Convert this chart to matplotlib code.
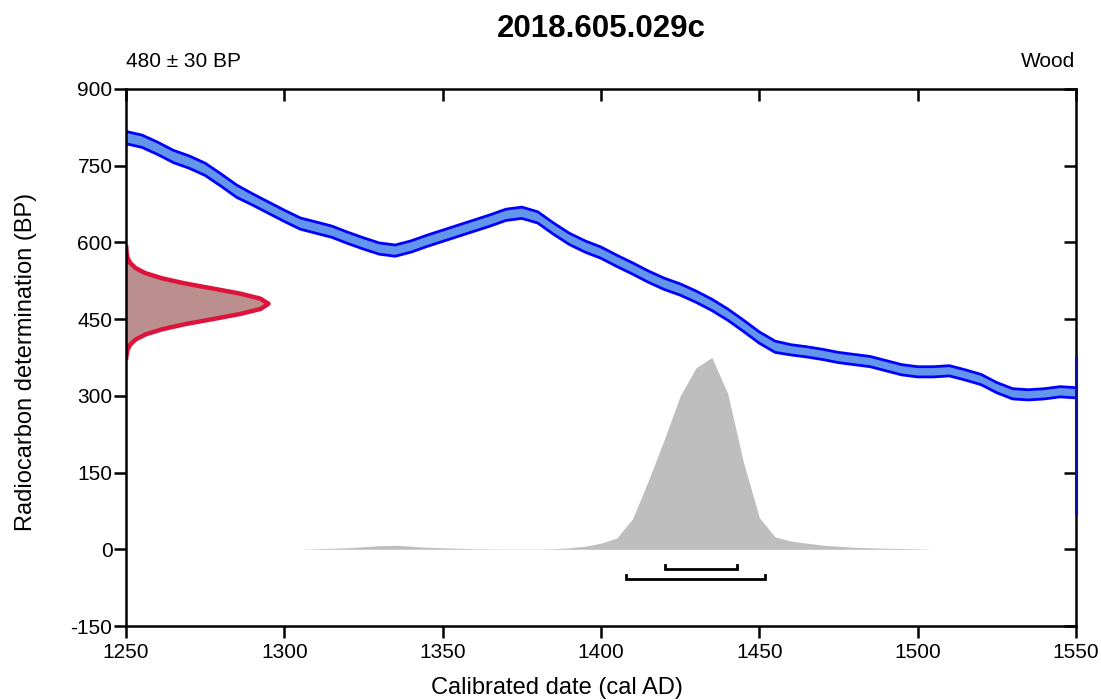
import numpy as np
import matplotlib.pyplot as plt

plt.rcParams['font.family'] = ['Liberation Sans', 'DejaVu Sans']
plt.rcParams['axes.unicode_minus'] = False

# calibration curve (centre BP and 1-sigma half width)
curve_years = [1250, 1255, 1260, 1265, 1270, 1275, 1280, 1285, 1290, 1295,
               1300, 1305, 1310, 1315, 1320, 1325, 1330, 1335, 1340, 1345,
               1350, 1355, 1360, 1365, 1370, 1375, 1380, 1385, 1390, 1395,
               1400, 1405, 1410, 1415, 1420, 1425, 1430, 1435, 1440, 1445,
               1450, 1455, 1460, 1465, 1470, 1475, 1480, 1485, 1490, 1495,
               1500, 1505, 1510, 1515, 1520, 1525, 1530, 1535, 1540, 1545, 1550]
curve_bp = [805, 798, 784, 768, 757, 743, 722, 700, 684, 668,
            652, 637, 629, 621, 609, 598, 588, 584, 592, 603,
            613, 623, 633, 643, 654, 658, 649, 627, 607, 592,
            580, 564, 549, 533, 519, 508, 494, 478, 459, 437,
            414, 396, 390, 386, 381, 375, 371, 367, 359, 351,
            347, 347, 349, 341, 332, 316, 304, 302, 304, 308, 306]
curve_err = [12, 12, 12, 12, 12, 12, 12, 12, 11, 11,
             11, 11, 11, 11, 11, 11, 11, 11, 11, 11,
             11, 11, 11, 11, 11, 11, 11, 11, 11, 11,
             11, 11, 11, 11, 11, 11, 11, 11, 11, 11,
             11, 11, 10, 10, 10, 10, 10, 10, 10, 10,
             10, 10, 10, 10, 10, 10, 10, 10, 10, 10, 10]

# radiocarbon determination 480 +/- 30 BP (width in years from the left axis)
det_bp = [375, 380, 390, 400, 410, 420, 430, 440, 450, 460, 470, 480,
          490, 500, 510, 520, 530, 540, 550, 560, 570, 580, 590]
det_width = [0.1, 0.2, 0.5, 1.3, 3.0, 6.1, 11.3, 18.5, 27.3, 36.0, 42.5, 45.0,
             42.5, 36.0, 27.3, 18.5, 11.3, 6.1, 3.0, 1.3, 0.5, 0.2, 0.1]

# calibrated probability (drawn in BP units above zero)
prob_years = [1305, 1310, 1315, 1320, 1325, 1330, 1335, 1340, 1345, 1350,
              1355, 1360, 1370, 1380, 1385, 1390, 1395, 1400, 1405, 1410,
              1415, 1420, 1425, 1430, 1435, 1440, 1445, 1450, 1455, 1460,
              1465, 1470, 1475, 1480, 1490, 1500, 1505]
prob_height = [0, 1, 2, 3, 5, 7, 8, 6, 4, 3,
               2, 1, 0.5, 0.5, 1, 3, 6, 12, 22, 60,
               135, 215, 300, 355, 375, 305, 170, 62, 24, 16,
               12, 8, 6, 4, 2, 1, 0]

# highest probability ranges (68.2% and 95.4%)
range_68 = [1420.2, 1442.9]
range_95 = [1408.0, 1451.7]
range_y = [-39, -59]

W, H = 1101, 700
fig = plt.figure(figsize=(W / 100, H / 100), dpi=100)
ax = fig.add_axes([126 / W, 74 / H, 950 / W, 537 / H])

ax.fill_between(prob_years, 0, prob_height, color='#bebebe', lw=0, zorder=1)

lo = np.array(curve_bp) - np.array(curve_err)
hi = np.array(curve_bp) + np.array(curve_err)
ax.fill_between(curve_years, lo, hi, color='#6495ed', lw=0, zorder=2)
ax.plot(curve_years, lo, color='#0000ff', lw=2, zorder=3)
ax.plot(curve_years, hi, color='#0000ff', lw=2, zorder=3)
ax.plot([1550, 1550], [70, 375], color='#10109a', lw=2.2, zorder=9, clip_on=False)

dx = 1250 + np.array(det_width)
ax.fill_betweenx(det_bp, 1250, dx, color='#bc8f8f', lw=0, zorder=4)
ax.plot(dx, det_bp, color='#dc143c', lw=3.2, zorder=5, solid_joinstyle='round')

for rng, yy in zip([range_68, range_95], range_y):
    ax.plot([rng[0], rng[0], rng[1], rng[1]], [yy + 9, yy, yy, yy + 9],
            color='black', lw=2, solid_joinstyle='miter')

ax.set_xlim(1250, 1550)
ax.set_ylim(-150, 900)
xt = np.arange(1250, 1551, 50)
yt = np.arange(-150, 901, 150)
ax.set_xticks(xt)
ax.set_yticks(yt)

for s in ax.spines.values():
    s.set_linewidth(1.8)
    s.set_zorder(7)
ax.tick_params(axis='both', direction='out', length=8.6, width=1.8,
               labelsize=15, colors='black')
ax.tick_params(axis='x', pad=3.5)
ax.tick_params(axis='y', pad=1.2)
sec_x = ax.secondary_xaxis('top')
sec_x.set_xticks(xt)
sec_x.tick_params(direction='in', length=8.6, width=1.8, labeltop=False)
sec_x.spines['top'].set_visible(False)
sec_y = ax.secondary_yaxis('right')
sec_y.set_yticks(yt)
sec_y.tick_params(direction='in', length=8.6, width=1.8, labelright=False)
sec_y.spines['right'].set_visible(False)

fig.text(557 / W, 6 / H, 'Calibrated date (cal AD)', fontsize=17,
         ha='center', va='baseline')
fig.text(26 / W, (H - 362) / H, 'Radiocarbon determination (BP)', fontsize=17,
         rotation=90, ha='center', va='center')
fig.text(601.5 / W, (H - 37) / H, '2018.605.029c', fontsize=22.5,
         fontweight='bold', ha='center', va='baseline')
fig.text(126.5 / W, (H - 67) / H, '480 ± 30 BP', fontsize=15, ha='left', va='baseline')
fig.text(1075 / W, (H - 67) / H, 'Wood', fontsize=15, ha='right', va='baseline')

fig.savefig('out.png', dpi=100)
